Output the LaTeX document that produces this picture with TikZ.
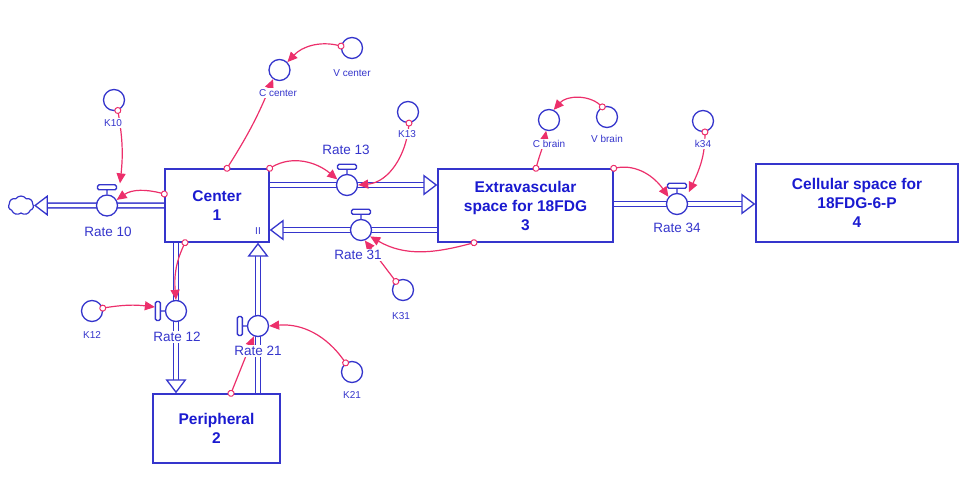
\documentclass[tikz,border=0pt]{standalone}
\usepackage{fontspec}
\setmainfont{Liberation Sans}
\usetikzlibrary{arrows.meta,shapes.symbols,backgrounds}
\definecolor{flow}{HTML}{3535CC}
\definecolor{ink}{HTML}{1A1AD0}
\definecolor{linkred}{HTML}{EC2F6B}
\tikzset{
  stock/.style={rectangle,draw=flow,line width=1.4pt,fill=white,text=ink,align=center,font=\fontsize{15.5}{19}\selectfont\bfseries,inner sep=0pt},
  valve/.style={circle,draw=flow,line width=1.3pt,fill=white,minimum size=21pt,inner sep=0pt},
  handle/.style={draw=flow,line width=1.3pt,fill=white,rounded corners=1.5pt},
  conv/.style={circle,draw=flow,line width=1.3pt,fill=white,minimum size=21pt,inner sep=0pt},
  pipe/.style={draw=flow,line width=1.35pt,double=white,double distance=3.4pt,-{Triangle[length=14pt,width=21pt,fill=white,line width=1.3pt]}},
  link/.style={draw=linkred,line width=1.2pt,shorten <=-3.5pt,{Circle[open,length=7pt,width=7pt,fill=white,line width=1pt]}-{Triangle[length=10pt,width=9pt]}},
  ratelabel/.style={font=\fontsize{13.5}{16}\selectfont,text=flow,fill=white,inner sep=1pt},
  convlabel/.style={font=\fontsize{10}{12}\selectfont,text=flow,fill=white,inner sep=1pt}
}
\begin{document}
\begin{tikzpicture}[x=1pt,y=1pt]
    \useasboundingbox (0,0) rectangle (979,479);
    \node[stock,minimum width=104pt,minimum height=73pt] (center) at (217,273.5) {Center\\1};
    \node[stock,minimum width=175pt,minimum height=73pt] (extra) at (525.5,273.5) {Extravascular\\space for 18FDG\\3};
    \node[stock,minimum width=202pt,minimum height=78pt] (cell) at (857,276) {Cellular space for\\18FDG-6-P\\4};
    \node[stock,minimum width=127pt,minimum height=69pt] (peri) at (216.5,50.5) {Peripheral\\2};
    \node[font=\fontsize{10}{12}\selectfont,text=flow] (mark) at (258,248) {II};
    \node[cloud,cloud puffs=7,cloud puff arc=110,aspect=1.4,draw=flow,line width=1.2pt,minimum width=25pt,minimum height=19pt,inner sep=0pt] (sink) at (21,273.5) {};
    \node[valve] (r10) at (107,273.5) {};
    \node[valve] (r13) at (347,294) {};
    \node[valve] (r31) at (361,249) {};
    \node[valve] (r34) at (677,275) {};
    \node[valve] (r12) at (176,168) {};
    \node[valve] (r21) at (258,153) {};
    \draw[handle] (r10.north) -- ++(0,4.5) ++(-9.5,0) rectangle ++(19,5);
    \draw[handle] (r13.north) -- ++(0,4.5) ++(-9.5,0) rectangle ++(19,5);
    \draw[handle] (r31.north) -- ++(0,4.5) ++(-9.5,0) rectangle ++(19,5);
    \draw[handle] (r34.north) -- ++(0,4.5) ++(-9.5,0) rectangle ++(19,5);
    \draw[handle] (r12.west) -- ++(-4.5,0) ++(0,-9.5) rectangle ++(-5,19);
    \draw[handle] (r21.west) -- ++(-4.5,0) ++(0,-9.5) rectangle ++(-5,19);
    \begin{scope}[on background layer]
      \draw[pipe] (center.west) -- (sink.east);
      \draw[pipe] (center.east |- r13) -- (extra.west |- r13);
      \draw[pipe] (extra.west |- r31) -- (center.east |- r31);
      \draw[pipe] (extra.east |- r34) -- (cell.west |- r34);
      \draw[pipe] (center.south -| r12) -- (peri.north -| r12);
      \draw[pipe] (peri.north -| r21) -- (center.south -| r21);
    \end{scope}
    \node[conv] (k10) at (114,379) {};
    \node[conv] (ccenter) at (279.5,409) {};
    \node[conv] (vcenter) at (352,431) {};
    \node[conv] (k13) at (408,367) {};
    \node[conv] (cbrain) at (549,359) {};
    \node[conv] (vbrain) at (607,362) {};
    \node[conv] (k34) at (703,358) {};
    \node[conv] (k31) at (403,189) {};
    \node[conv] (k12) at (92,168) {};
    \node[conv] (k21) at (352,107) {};
    \draw[link] (k10.-70) to[bend left=8] ([xshift=13pt,yshift=11pt]r10.north);
    \draw[link] ([yshift=11.5pt]center.west) to[out=165,in=35] (r10.30);
    \draw[link] ([xshift=10pt]center.north) to[bend right=5] (ccenter.-125);
    \draw[link] (vcenter.170) to[bend right=30] (ccenter.45);
    \draw[link] (center.north east) to[out=30,in=140] (r13.150);
    \draw[link] (k13.-85) to[out=-95,in=5] (r13.east);
    \draw[link] ([xshift=-51.5pt]extra.south) to[out=195,in=-30] (r31.-35);
    \draw[link] (k31.130) -- (r31.-70);
    \draw[link] ([xshift=-32pt]center.south) to[out=-115,in=95] (r12.north);
    \draw[link] (k12.15) to[bend left=8] ([xshift=-10pt,yshift=4pt]r12.west);
    \draw[link] ([xshift=14.5pt]peri.north) -- (r21.-112);
    \draw[link] (k21.125) to[out=125,in=5] (r21.east);
    \draw[link] ([xshift=10.5pt]extra.north) to[out=75,in=-100] (cbrain.-105);
    \draw[link] (vbrain.115) to[bend right=45] (cbrain.65);
    \draw[link] (extra.north east) to[out=10,in=125] (r34.140);
    \draw[link] (k34.-80) to[out=-90,in=65] ([xshift=4pt,yshift=4pt]r34.45);
    \node[ratelabel] (lr10) at (108,247) {Rate 10};
    \node[ratelabel] (lr13) at (346,329) {Rate 13};
    \node[ratelabel] (lr31) at (358,224) {Rate 31};
    \node[ratelabel] (lr34) at (677,251) {Rate 34};
    \node[ratelabel] (lr12) at (177,142) {Rate 12};
    \node[ratelabel] (lr21) at (258,128) {Rate 21};
    \node[convlabel] (lk10) at (113,356) {K10};
    \node[convlabel] (lccenter) at (278,386) {C center};
    \node[convlabel] (lvcenter) at (352,406) {V center};
    \node[convlabel] (lk13) at (407,345) {K13};
    \node[convlabel] (lcbrain) at (549,335) {C brain};
    \node[convlabel] (lvbrain) at (607,340) {V brain};
    \node[convlabel] (lk34) at (703,335) {k34};
    \node[convlabel] (lk31) at (401,163) {K31};
    \node[convlabel] (lk12) at (92,144) {K12};
    \node[convlabel] (lk21) at (352,84) {K21};
  \end{tikzpicture}
\end{document}
